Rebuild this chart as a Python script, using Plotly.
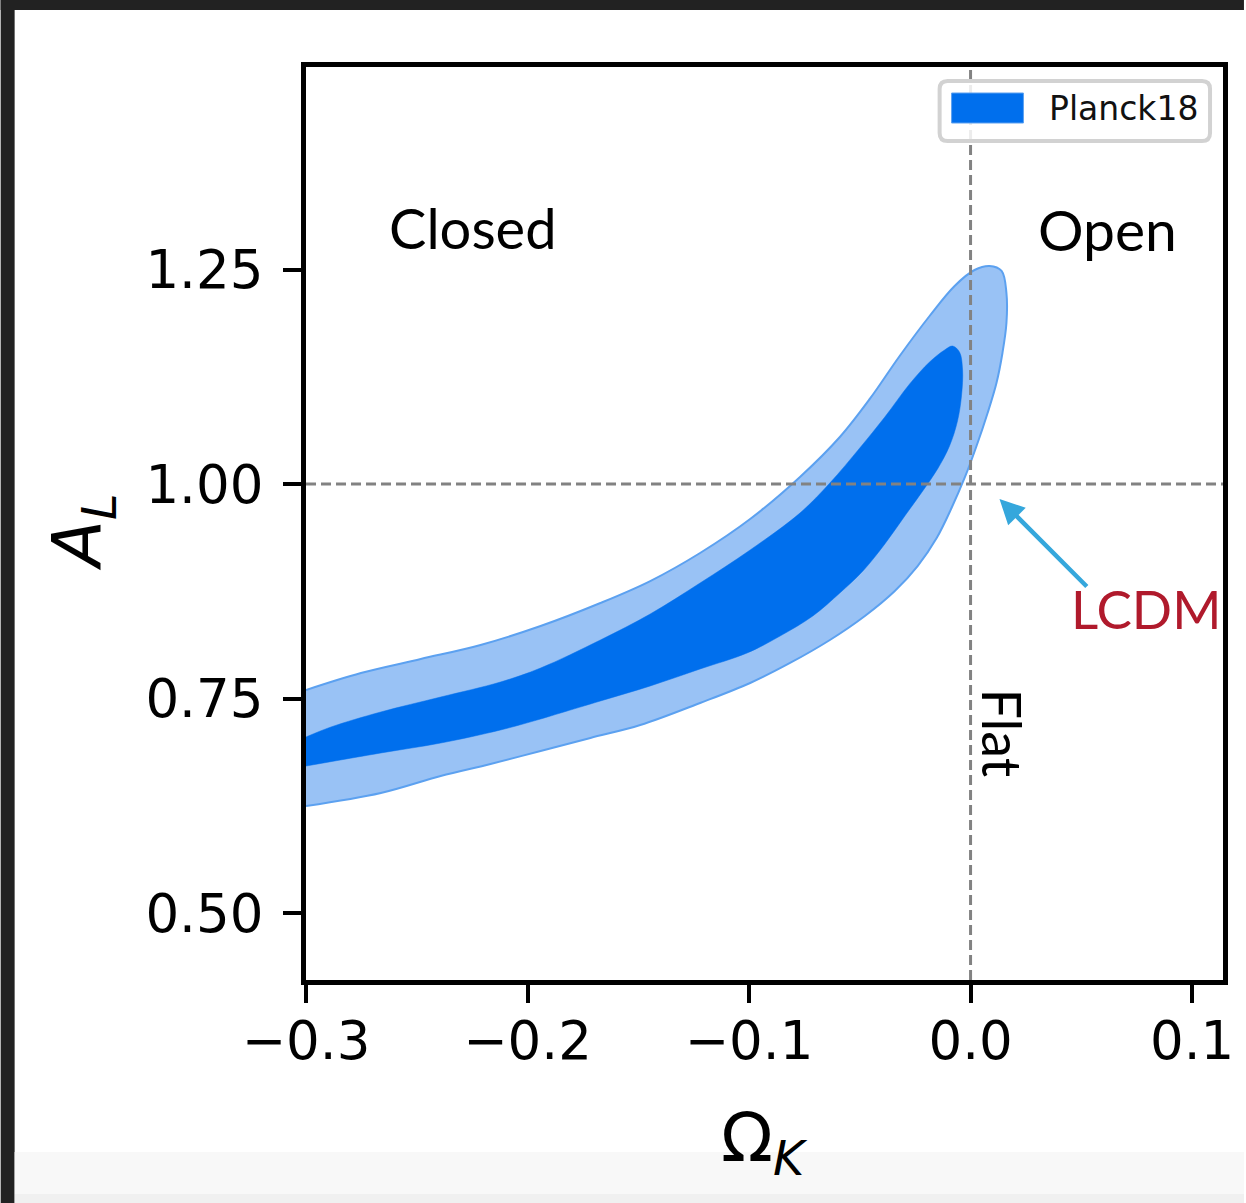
import plotly.graph_objects as go

# --- Planck18 posterior contours in the (Omega_K, A_L) plane ---
# 95% region boundary (upper edge left->right, around the tip, lower edge right->left)
outer_ok = [-0.3000, -0.2752, -0.2482, -0.2212, -0.1941, -0.1671, -0.1446, -0.1221,
            -0.0995, -0.0770, -0.0590, -0.0455, -0.0320, -0.0185, -0.0072, 0.0018,
            0.0086, 0.0140, 0.0162, 0.0162, 0.0144, 0.0117, 0.0077, 0.0027,
            -0.0027, -0.0086, -0.0153, -0.0239, -0.0342, -0.0477, -0.0635, -0.0815,
            -0.0995, -0.1221, -0.1491, -0.1716, -0.1941, -0.2167, -0.2392, -0.2662,
            -0.3000]
outer_al = [0.7599, 0.7797, 0.7960, 0.8124, 0.8345, 0.8613, 0.8869, 0.9196,
            0.9592, 1.0082, 1.0548, 1.0991, 1.1492, 1.1958, 1.2308, 1.2494,
            1.2541, 1.2483, 1.2226, 1.1876, 1.1527, 1.1177, 1.0828, 1.0443,
            1.0070, 0.9720, 0.9371, 0.9044, 0.8753, 0.8462, 0.8182, 0.7914,
            0.7681, 0.7448, 0.7191, 0.7040, 0.6888, 0.6737, 0.6597, 0.6399,
            0.6247]

# 68% region boundary
inner_ok = [-0.3000, -0.2887, -0.2662, -0.2392, -0.2122, -0.1941, -0.1671, -0.1446,
            -0.1221, -0.0995, -0.0770, -0.0635, -0.0500, -0.0387, -0.0275, -0.0185,
            -0.0117, -0.0081, -0.0050, -0.0036, -0.0041, -0.0059, -0.0095, -0.0149,
            -0.0216, -0.0297, -0.0387, -0.0486, -0.0590, -0.0712, -0.0860, -0.1009,
            -0.1221, -0.1446, -0.1671, -0.1851, -0.1941, -0.2122, -0.2392, -0.2662,
            -0.3000]
inner_al = [0.7051, 0.7168, 0.7343, 0.7517, 0.7692, 0.7855, 0.8182, 0.8485,
            0.8846, 0.9231, 0.9662, 1.0012, 1.0420, 1.0781, 1.1166, 1.1422,
            1.1562, 1.1608, 1.1538, 1.1329, 1.1026, 1.0734, 1.0443, 1.0175,
            0.9918, 0.9627, 0.9301, 0.8986, 0.8730, 0.8462, 0.8228, 0.8030,
            0.7844, 0.7646, 0.7471, 0.7331, 0.7261, 0.7133, 0.6981, 0.6865,
            0.6713]

# Axis ticks
x_ticks = [-0.3, -0.2, -0.1, 0.0, 0.1]
x_ticktext = ["\u22120.3", "\u22120.2", "\u22120.1", "0.0", "0.1"]
y_ticks = [0.50, 0.75, 1.00, 1.25]
y_ticktext = ["0.50", "0.75", "1.00", "1.25"]

# Reference (flat LCDM) point
lcdm_ok, lcdm_al = 0.0, 1.0

X_RANGE = [-0.3, 0.11396]
Y_RANGE = [0.42191, 1.48601]

# plot-area geometry in pixels (used for page decorations)
W, H = 1246, 1203
PL, PR, PT, PB = 306, 1225, 67, 980


def px(xp):
    return (xp - PL) / (PR - PL)


def py(yp):
    return (PB - yp) / (PB - PT)


def dx(xp):
    return X_RANGE[0] + (xp - PL) * (X_RANGE[1] - X_RANGE[0]) / (PR - PL)


def dy(yp):
    return Y_RANGE[0] + (PB - yp) * (Y_RANGE[1] - Y_RANGE[0]) / (PB - PT)


BLUE = "#006FED"
LIGHT = "#99C2F5"
EDGE = "#5CA1F0"

fig = go.Figure()
fig.add_trace(go.Scatter(x=outer_ok, y=outer_al, mode="lines", fill="toself",
                         fillcolor=LIGHT, line=dict(color=EDGE, width=2, shape="spline", smoothing=1.0),
                         hoverinfo="skip", showlegend=False))
fig.add_trace(go.Scatter(x=inner_ok, y=inner_al, mode="lines", fill="toself",
                         fillcolor=BLUE, line=dict(color=BLUE, width=0.5, shape="spline", smoothing=1.0),
                         hoverinfo="skip", showlegend=False))

shapes = []
# flat-universe and A_L = 1 guide lines
shapes.append(dict(type="line", xref="x", yref="paper", x0=lcdm_ok, x1=lcdm_ok, y0=0, y1=1,
                   line=dict(color="#828282", width=3, dash="10px,5px"), layer="above"))
shapes.append(dict(type="line", xref="paper", yref="y", x0=0, x1=1, y0=lcdm_al, y1=lcdm_al,
                   line=dict(color="#828282", width=3, dash="10px,5px"), layer="above"))

# page frame
shapes.append(dict(type="rect", xref="paper", yref="paper", x0=px(0), x1=px(14), y0=py(H), y1=py(0),
                   fillcolor="#222222", line=dict(width=0), layer="below"))
shapes.append(dict(type="rect", xref="paper", yref="paper", x0=px(0), x1=px(W), y0=py(10), y1=py(0),
                   fillcolor="#222222", line=dict(width=0), layer="below"))
shapes.append(dict(type="rect", xref="paper", yref="paper", x0=px(14), x1=px(W), y0=py(1194), y1=py(1152),
                   fillcolor="#F8F8F8", line=dict(width=0), layer="below"))
shapes.append(dict(type="rect", xref="paper", yref="paper", x0=px(14), x1=px(W), y0=py(H), y1=py(1194),
                   fillcolor="#F0F0F0", line=dict(width=0), layer="below"))

# legend frame (rounded) and patch
lx0, lx1, ly0, ly1, r = 941, 1212, 81, 141, 8
path = (f"M {px(lx0 + r)},{py(ly0)} L {px(lx1 - r)},{py(ly0)} Q {px(lx1)},{py(ly0)} {px(lx1)},{py(ly0 + r)} "
        f"L {px(lx1)},{py(ly1 - r)} Q {px(lx1)},{py(ly1)} {px(lx1 - r)},{py(ly1)} "
        f"L {px(lx0 + r)},{py(ly1)} Q {px(lx0)},{py(ly1)} {px(lx0)},{py(ly1 - r)} "
        f"L {px(lx0)},{py(ly0 + r)} Q {px(lx0)},{py(ly0)} {px(lx0 + r)},{py(ly0)} Z")
shapes.append(dict(type="path", xref="paper", yref="paper", path=path,
                   fillcolor="rgba(255,255,255,0.85)", line=dict(color="#D2D2D2", width=4), layer="above"))
shapes.append(dict(type="rect", xref="paper", yref="paper", x0=px(953), x1=px(1025), y0=py(123), y1=py(93),
                   fillcolor=BLUE, line=dict(color="#5CA1F0", width=1), layer="above"))

annotations = [
    dict(xref="paper", yref="paper", x=px(1049), y=py(108), xanchor="left", yanchor="middle",
         text="Planck18", showarrow=False, font=dict(family="DejaVu Sans", size=33, color="#111111")),
    dict(xref="x", yref="y", x=dx(473), y=dy(227), text="Closed", showarrow=False,
         font=dict(family="Lato", size=56, color="black")),
    dict(xref="x", yref="y", x=dx(1109), y=dy(229), text="Open", showarrow=False,
         font=dict(family="Lato", size=57, color="black")),
    dict(xref="x", yref="y", x=dx(1005), y=dy(733), text="Flat", showarrow=False, textangle=90,
         font=dict(family="Lato", size=54, color="black")),
    dict(xref="x", yref="y", x=dx(1148), y=dy(608), text="LCDM", showarrow=False,
         font=dict(family="Lato", size=53, color="#B01A2C")),
    dict(xref="x", yref="y", axref="x", ayref="y", x=dx(1001), y=dy(499), ax=dx(1090), ay=dy(588),
         text="", showarrow=True, arrowhead=2, arrowsize=1.1, arrowwidth=4.5, arrowcolor="#35A7DC"),
    dict(xref="paper", yref="paper", x=px(82), y=py(532), textangle=-90, showarrow=False,
         xanchor="center", yanchor="middle",
         text="<i>A</i><sub><i>L</i></sub>", font=dict(family="DejaVu Sans", size=68, color="black")),
    dict(xref="paper", yref="paper", x=px(765), y=py(1142), showarrow=False,
         xanchor="center", yanchor="middle",
         text="\u03a9<sub><i>K</i></sub>", font=dict(family="DejaVu Sans", size=68, color="black")),
]

axis_common = dict(showgrid=False, zeroline=False, showline=True, linewidth=5, linecolor="black",
                   mirror=True, ticks="outside", ticklen=18, tickwidth=4, tickcolor="black",
                   tickfont=dict(family="DejaVu Sans", size=53, color="black"))

fig.update_layout(
    width=W, height=H,
    margin=dict(l=PL, r=W - PR, t=PT, b=H - PB, pad=0),
    paper_bgcolor="white", plot_bgcolor="white",
    xaxis=dict(range=X_RANGE, tickvals=x_ticks, ticktext=x_ticktext, ticklabelstandoff=-8, **axis_common),
    yaxis=dict(range=Y_RANGE, tickvals=y_ticks, ticktext=y_ticktext, ticklabelstandoff=9, **axis_common),
    shapes=shapes, annotations=annotations, showlegend=False,
)

fig.write_html("out.html")
